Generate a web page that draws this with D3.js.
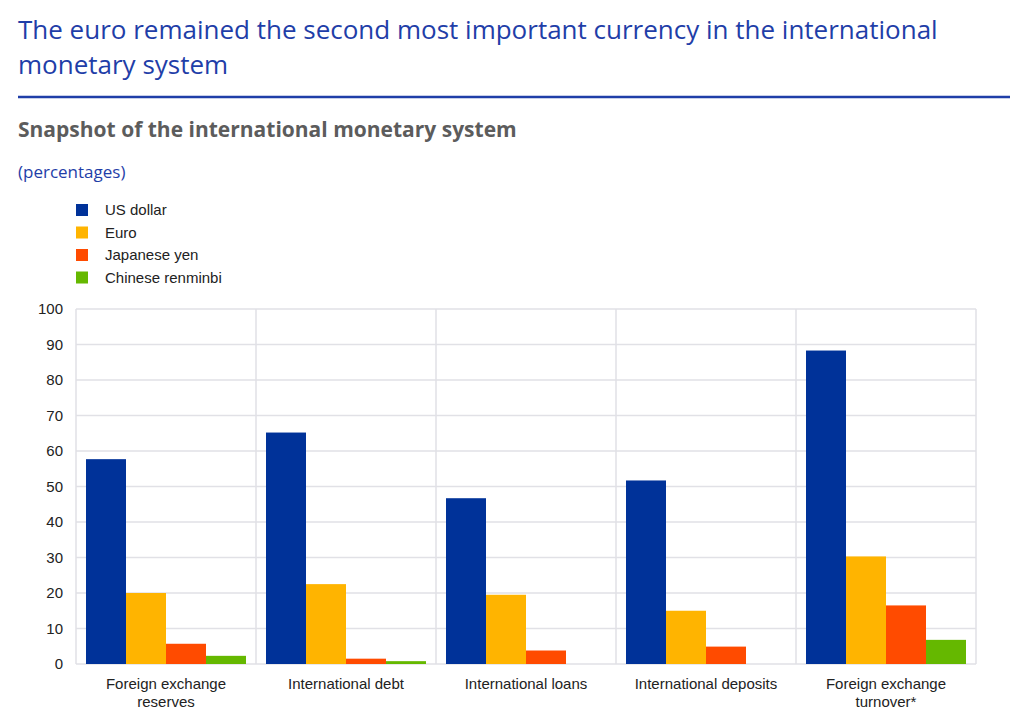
<!DOCTYPE html>
<html>
<head>
<meta charset="utf-8">
<script src="https://cdn.jsdelivr.net/npm/d3@7"></script>
<style>
body { margin: 0; background: #fff; font-family: "Open Sans", sans-serif; }
</style>
</head>
<body>
<svg id="chart" width="1024" height="720"></svg>
<script>
"use strict";

// Data
const categories = [
	["Foreign exchange", "reserves"],
	["International debt"],
	["International loans"],
	["International deposits"],
	["Foreign exchange", "turnover*"]
];
const currencies = ["US dollar", "Euro", "Japanese yen", "Chinese renminbi"];
const colours = ["#003299", "#ffb400", "#ff4b00", "#65b800"];
const usDollar = [57.7, 65.2, 46.7, 51.7, 88.3];
const euro = [20.0, 22.5, 19.5, 15.0, 30.3];
const yen = [5.7, 1.5, 3.8, 4.9, 16.5];
const renminbi = [2.3, 0.8, 0, 0, 6.8];
const yTicks = [0, 10, 20, 30, 40, 50, 60, 70, 80, 90, 100];

const series = [usDollar, euro, yen, renminbi];

const svg = d3.select("#chart");

// Titles
svg.append("text").attr("x", 18).attr("y", 39)
	.style("font-size", "26px").style("fill", "#1f3ea8")
	.text("The euro remained the second most important currency in the international");
svg.append("text").attr("x", 18).attr("y", 74)
	.style("font-size", "26px").style("fill", "#1f3ea8")
	.text("monetary system");
svg.append("line").attr("x1", 18).attr("x2", 1010).attr("y1", 97).attr("y2", 97)
	.style("stroke", "#1f3ea8").style("stroke-width", 2.5);
svg.append("text").attr("x", 18).attr("y", 137)
	.style("font-size", "21px").style("font-weight", "bold").style("fill", "#5c5c5c")
	.text("Snapshot of the international monetary system");
svg.append("text").attr("x", 18).attr("y", 178)
	.style("font-size", "17px").style("fill", "#1f3ea8")
	.text("(percentages)");

// Legend
const legend = svg.append("g").selectAll("g")
	.data(currencies).enter().append("g")
	.attr("transform", (d, i) => `translate(76,${204 + i * 22.5})`);
legend.append("rect").attr("width", 12).attr("height", 12)
	.style("fill", (d, i) => colours[i]);
legend.append("text").attr("x", 29).attr("y", 11)
	.style("font-family", "Liberation Sans, Arial, sans-serif")
	.style("font-size", "15px").style("fill", "#222").text(d => d);

// Scales
const margin = { left: 76, right: 976, top: 309, bottom: 664 };
const x = d3.scaleBand().domain(d3.range(categories.length))
	.range([margin.left, margin.right]);
const xInner = d3.scaleBand().domain(d3.range(series.length))
	.range([10, x.bandwidth() - 10]);
const y = d3.scaleLinear().domain([0, 100]).range([margin.bottom, margin.top]);

// Grid
svg.append("g").selectAll("line").data(yTicks).enter().append("line")
	.attr("x1", margin.left).attr("x2", margin.right)
	.attr("y1", d => y(d)).attr("y2", d => y(d))
	.style("stroke", "#e1e1e6").style("stroke-width", 1.5);
svg.append("g").selectAll("line").data(d3.range(categories.length + 1)).enter().append("line")
	.attr("x1", d => margin.left + d * x.step()).attr("x2", d => margin.left + d * x.step())
	.attr("y1", margin.top).attr("y2", margin.bottom)
	.style("stroke", "#e1e1e6").style("stroke-width", 1.5);

// Y labels
svg.append("g").selectAll("text").data(yTicks).enter().append("text")
	.attr("x", 63).attr("y", d => y(d) + 5).attr("text-anchor", "end")
	.style("font-family", "Liberation Sans, Arial, sans-serif")
	.style("font-size", "15px").style("fill", "#222").text(d => d);

// Bars
const groups = svg.append("g").selectAll("g").data(categories).enter().append("g")
	.attr("transform", (d, i) => `translate(${x(i)},0)`);
groups.selectAll("rect")
	.data((d, i) => series.map((s, j) => ({ j: j, v: s[i] })))
	.enter().append("rect")
	.attr("x", d => xInner(d.j)).attr("width", xInner.bandwidth())
	.attr("y", d => y(d.v)).attr("height", d => y(0) - y(d.v))
	.style("fill", d => colours[d.j]);

// Category labels
groups.selectAll("text").data(d => d).enter().append("text")
	.attr("x", x.bandwidth() / 2).attr("y", (d, i) => 689 + i * 18)
	.attr("text-anchor", "middle")
	.style("font-family", "Liberation Sans, Arial, sans-serif")
	.style("font-size", "15px").style("fill", "#222").text(d => d);
</script>
</body>
</html>
